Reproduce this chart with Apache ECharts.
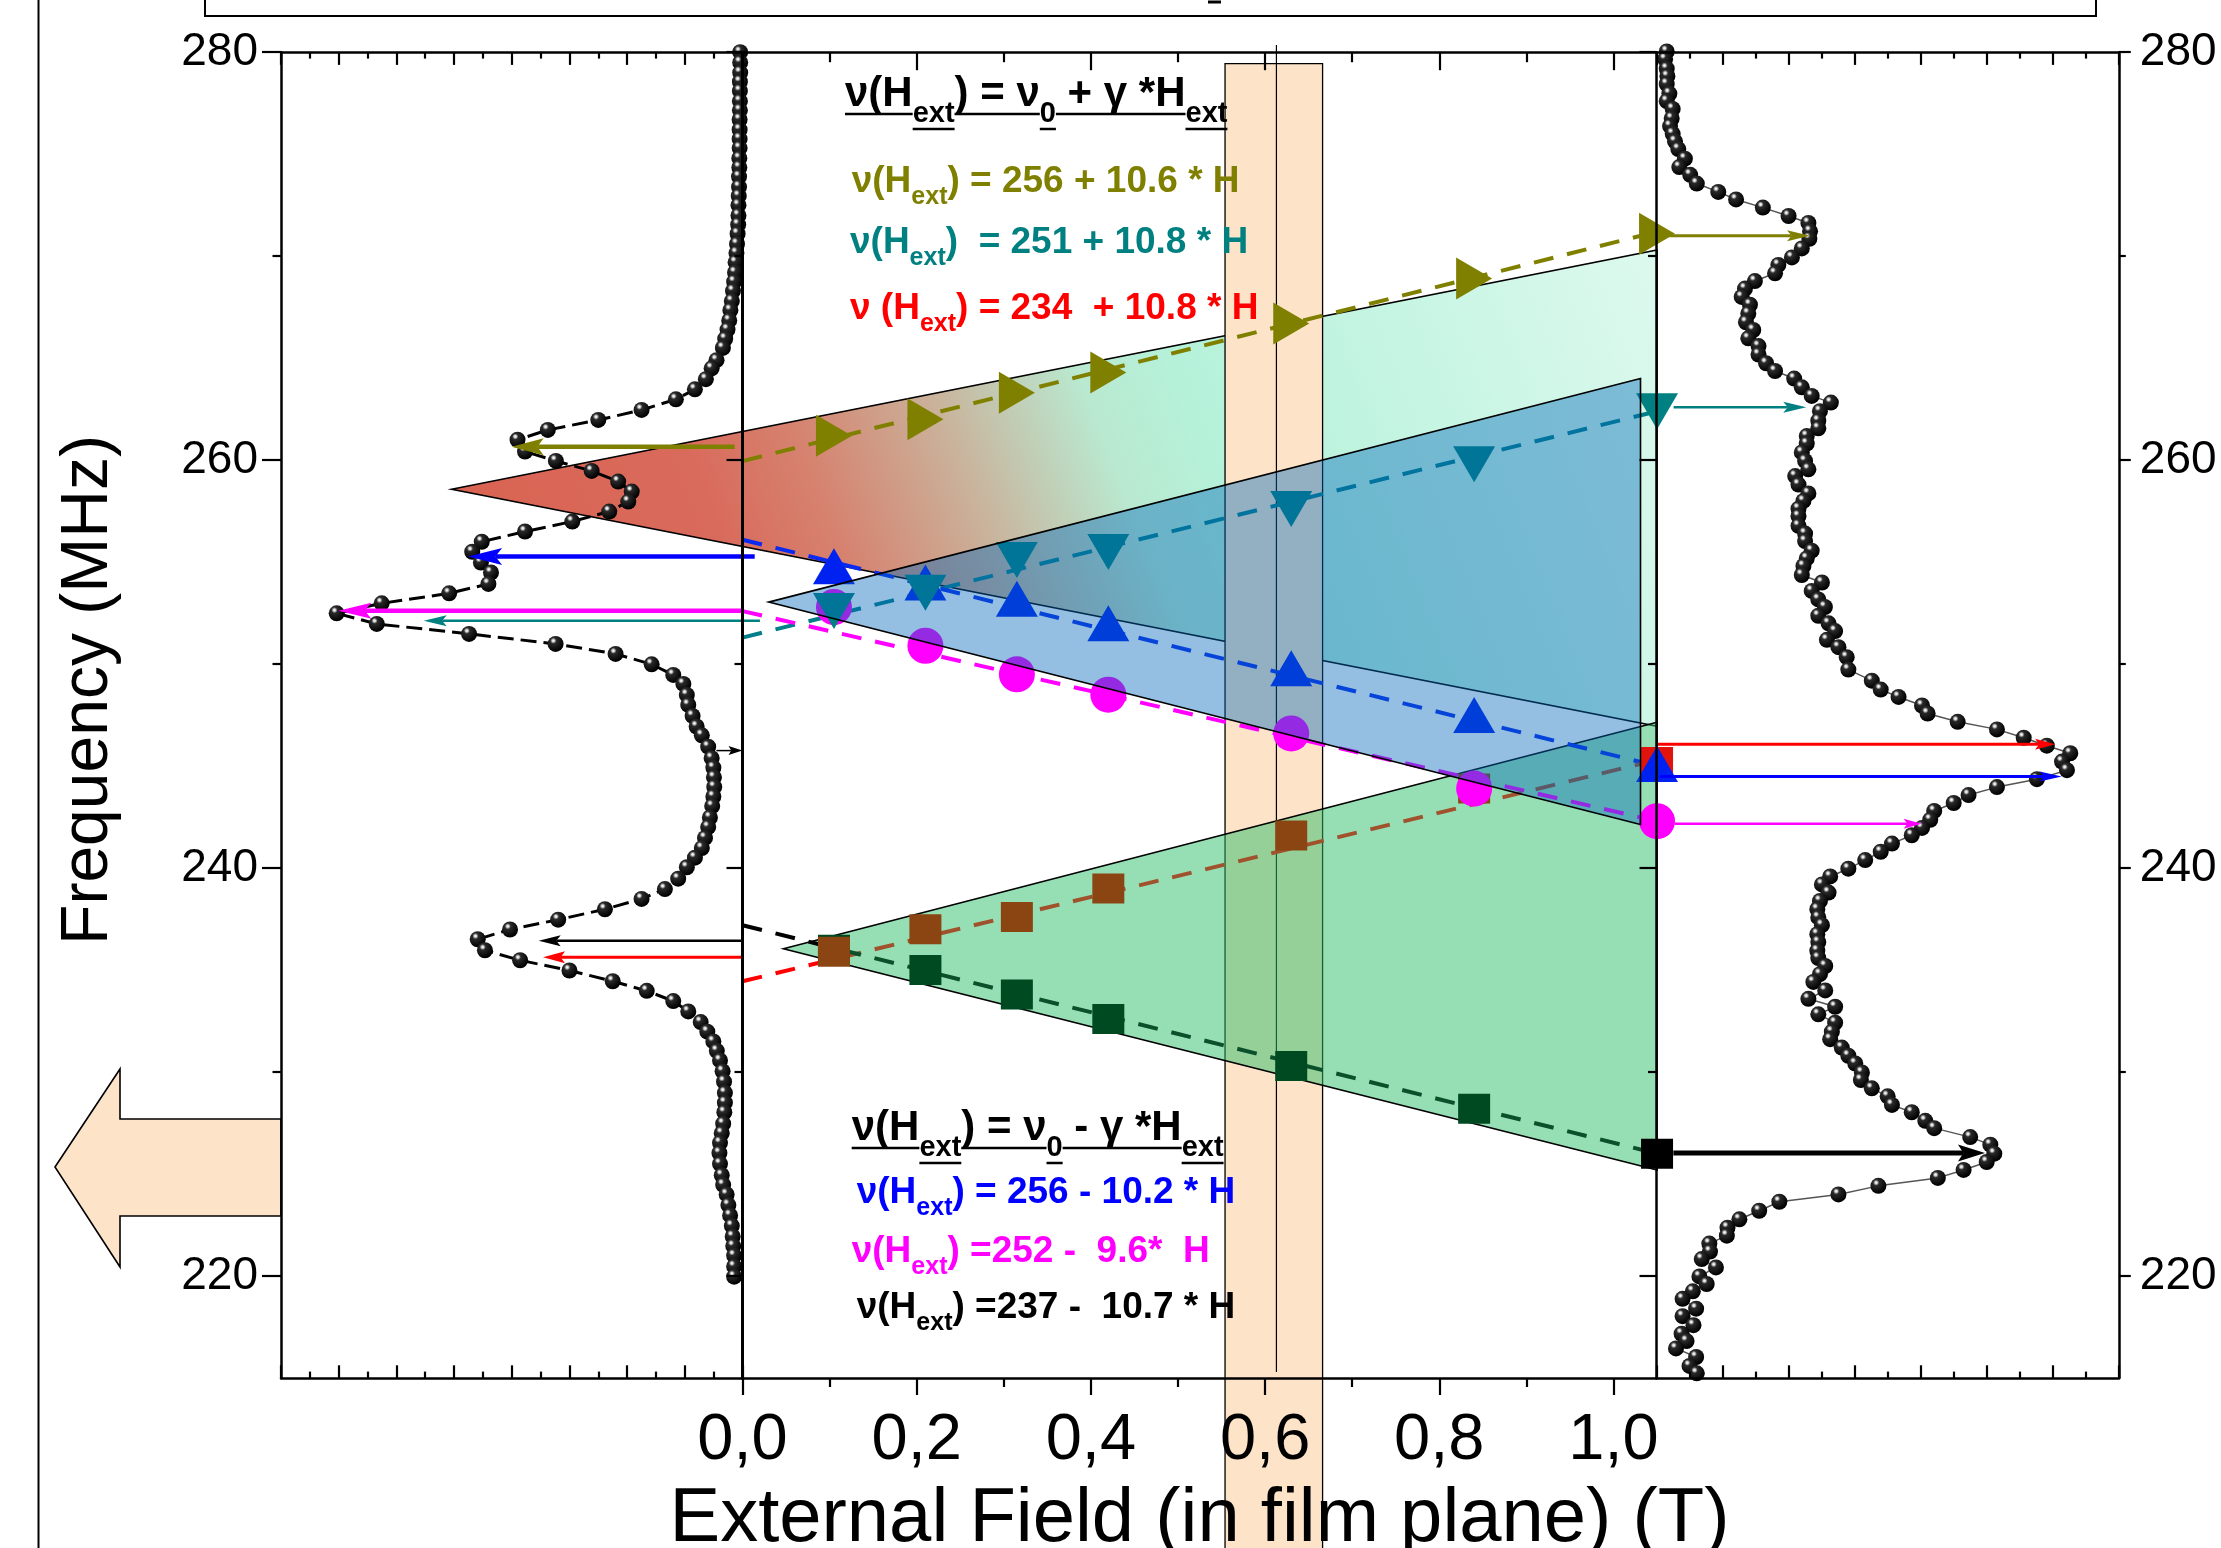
<!DOCTYPE html>
<html>
<head>
<meta charset="utf-8">
<script src="https://cdn.jsdelivr.net/npm/echarts@6.0.0/dist/echarts.min.js"></script>
<style>
html,body{margin:0;padding:0;background:#fff;overflow:hidden}
#chart{width:2221px;height:1548px}
</style>
</head>
<body>
<div id="chart"></div>
<script>
// ================= DATA =================
// applied field (T) of the measured points
const fieldT = [0.105, 0.21, 0.315, 0.42, 0.63, 0.84, 1.05];
// resonance frequencies (MHz)
const oliveFreq   = [261.2, 262.0, 263.3, 264.3, 266.7, 268.9, 271.1];
const tealFreq    = [252.6, 253.5, 255.1, 255.5, 257.6, 259.8, 262.4];
const brownFreq   = [235.9, 237.0, 237.6, 239.0, 241.6, 243.9, 245.2];
const blueFreq    = [254.8, 254.0, 253.2, 252.0, 249.8, 247.5, 245.1];
const magentaFreq = [252.8, 250.9, 249.5, 248.5, 246.6, 243.9, 242.3];
const greenFreq   = [236.0, 235.0, 233.8, 232.6, 230.3, 228.2, 226.0];

// dashed linear fits: value at fitField[0] and fitField[1]
const fitField   = [0, 1.05];
const oliveFit   = [259.95, 271.2];
const tealFit    = [251.3, 262.4];
const brownFit   = [234.45, 245.3];
const blueFit    = [256.1, 245.0];
const magentaFit = [252.6, 242.3];
const greenFit   = [237.2, 226.0];

// shaded wedges (field, frequency) vertices
const wedgeUpper = [[-0.334, 258.57], [1.05, 270.3], [1.05, 246.95]];
const wedgeMiddle = [[0.030, 253.04], [1.031, 264.0], [1.031, 242.14]];
const wedgeLower = [[0.047, 236.04], [1.05, 247.15], [1.05, 225.2]];

// highlighted field band and marker line
const bandField = [0.554, 0.666];
const bandTopFreq = 279.44;
const markLineField = [0.613];
const markLineFreq = [280.35, 215.3];

// arrows: tail field, tip field, frequency
const arrowTail = [-0.009, 0.014, 0.0, 0.020, 0.0, 0.0, -0.030, 1.064, 1.069, 1.0506, 1.0535, 1.0706, 1.0687];
const arrowTip  = [-0.265, -0.315, -0.464, -0.366, -0.234, -0.229, 0.0, 1.2256, 1.2213, 1.507, 1.5146, 1.3538, 1.4265];
const arrowFreq = [260.66, 255.27, 252.61, 252.12, 236.44, 235.63, 245.76, 271.0, 262.59, 246.07, 244.49, 242.17, 226.03];

// left NMR spectrum (frequency MHz, amplitude a.u.)
const leftFreq = [280.0,279.5,279.0,278.55,278.1,277.6,277.15,276.7,276.2,275.75,275.3,274.8,274.35,273.9,273.4,272.95,272.5,272.0,271.55,271.1,270.6,270.15,269.7,269.2,268.75,268.3,267.8,267.35,266.85,266.4,265.95,265.5,264.9,264.5,263.97,263.47,262.98,262.46,261.97,261.48,261.0,260.42,259.96,259.47,258.95,258.46,257.97,257.48,256.99,256.5,256.0,255.51,254.98,254.49,253.93,253.47,252.98,252.49,251.97,251.48,250.99,250.5,249.99,249.47,249.03,248.49,248.0,247.46,246.94,246.51,245.95,245.39,244.92,244.45,243.98,243.51,243.04,242.48,242.01,241.48,240.98,240.51,240.04,239.48,238.97,238.49,237.98,237.47,236.99,236.51,235.97,235.48,234.98,234.45,233.98,233.48,232.97,232.45,231.98,231.5,231.04,230.57,230.04,229.53,228.98,228.5,228.03,227.47,227.0,226.53,226.03,225.5,224.94,224.47,224.0,223.48,222.97,222.46,221.94,221.47,221.0,220.47,219.97];
const leftAmp = [0.08,0.08,0.08,0.09,0.09,0.09,0.09,0.1,0.1,0.1,0.1,0.11,0.11,0.12,0.12,0.13,0.14,0.14,0.15,0.17,0.19,0.21,0.24,0.26,0.29,0.33,0.37,0.42,0.46,0.52,0.6,0.68,0.9,1.07,1.27,1.65,2.31,3.5,5.0,6.75,7.8,7.54,6.47,5.23,4.31,3.84,3.96,4.62,5.9,7.54,9.04,9.37,9.07,8.72,8.81,10.17,12.51,14.07,12.68,9.48,6.48,4.4,3.15,2.4,2.05,1.93,1.88,1.73,1.59,1.41,1.19,1.07,1.01,0.99,0.98,1.01,1.05,1.13,1.19,1.3,1.41,1.65,1.93,2.23,2.69,3.5,4.77,6.39,8.06,9.18,8.93,7.71,6.0,4.5,3.32,2.4,1.88,1.45,1.22,1.01,0.89,0.78,0.69,0.64,0.61,0.61,0.63,0.67,0.72,0.78,0.8,0.78,0.72,0.67,0.55,0.49,0.43,0.37,0.34,0.32,0.29,0.29,0.29];

// right NMR spectrum (frequency MHz, amplitude a.u.)
const rightFreq = [280.04,279.66,279.19,278.82,278.44,277.97,277.6,277.22,276.75,276.38,276.0,275.63,275.25,274.78,274.37,273.99,273.56,273.15,272.78,272.38,271.97,271.63,271.22,270.85,270.38,269.94,269.57,269.16,268.78,268.41,268.0,267.62,267.19,266.76,266.38,265.97,265.59,265.18,264.75,264.37,264.0,263.57,263.15,262.82,262.4,261.93,261.56,261.18,260.81,260.38,259.96,259.55,259.22,258.8,258.37,258.0,257.62,257.25,256.78,256.4,256.03,255.56,255.18,254.81,254.37,254.0,253.59,253.17,252.8,252.37,252.0,251.62,251.19,250.83,250.34,249.73,249.19,248.75,248.39,247.97,247.58,247.17,246.8,246.39,246.0,245.63,245.22,244.8,244.36,243.97,243.58,243.19,242.8,242.37,241.97,241.61,241.2,240.8,240.39,239.97,239.59,239.2,238.8,238.39,237.98,237.58,237.2,236.76,236.37,235.95,235.59,235.2,234.8,234.42,234.0,233.59,233.2,232.83,232.42,231.98,231.61,231.2,230.8,230.42,229.98,229.61,229.2,228.81,228.39,228.03,227.61,227.25,226.81,226.44,226.0,225.59,225.2,224.81,224.42,224.0,223.64,223.2,222.78,222.37,221.98,221.59,221.2,220.83,220.42,219.98,219.61,219.25,218.88,218.4,218.03,217.59,217.17,216.81,216.45,216.03,215.59,215.23];
const rightAmp = [0.31,0.26,0.31,0.33,0.31,0.39,0.31,0.49,0.46,0.41,0.49,0.56,0.66,0.86,0.69,1.02,1.22,1.87,2.41,3.22,4.0,4.6,4.65,4.63,4.4,4.1,3.69,3.59,2.98,2.68,2.58,2.83,2.78,2.71,2.93,2.78,3.09,3.09,3.32,3.59,4.17,4.4,4.7,5.28,4.95,4.9,4.9,4.55,4.55,4.4,4.5,4.6,4.2,4.3,4.6,4.45,4.3,4.3,4.3,4.5,4.5,4.7,4.55,4.45,4.4,5.01,4.7,4.9,5.1,4.9,5.21,5.41,5.16,5.51,5.76,5.81,6.52,6.79,7.33,8.04,8.21,9.12,10.31,11.12,11.82,12.53,12.28,12.43,11.52,10.31,9.45,9.0,8.41,8.29,8.04,7.73,7.13,6.79,6.32,5.81,5.26,5.01,5.21,4.95,4.87,4.9,5.01,4.87,4.9,4.87,4.9,5.11,4.95,4.75,5.11,4.6,5.41,4.9,5.41,5.31,5.26,5.61,5.81,6.02,6.22,6.19,6.52,7.0,7.13,7.73,8.14,8.41,9.5,10.11,10.23,10.0,9.3,8.52,6.72,5.51,3.72,3.11,2.51,2.15,2.13,1.6,1.62,1.37,1.8,1.3,1.52,1.1,0.79,1.2,0.79,1.12,0.76,0.91,0.59,1.2,1.0,1.22];

// axis ticks / labels
const freqMajor = [220, 240, 260, 280];
const freqMinor = [230, 250, 270];
const fieldMajor = [0, 0.2, 0.4, 0.6, 0.8, 1.0];
const fieldMinor = [0.1, 0.3, 0.5, 0.7, 0.9];

// ================= LAYOUT / STYLE =================
const FONT = "'Liberation Sans', Arial, Helvetica, sans-serif";
const W = 2221, H = 1548;
const PLOT_L = 281, PLOT_R = 2118.8, PLOT_T = 52.2, PLOT_B = 1378;
const X0_PX = 742.5, PX_PER_T = 871, XR_PX = 1656.5;
const XMIN = (PLOT_L - X0_PX) / PX_PER_T, XMAX = (PLOT_R - X0_PX) / PX_PER_T, XRIGHT = (XR_PX - X0_PX) / PX_PER_T;
const FMIN = 215, FMAX = 280;
const plotH = PLOT_B - PLOT_T;

const C = {olive:'#808000', teal:'#008080', red:'#FF0000', blue:'#0000FF', magenta:'#FF00FF', brown:'#8B4513', dgreen:'#004A22', black:'#000000'};

const arrowStyle = [
  {c:C.olive, w:4.5, L:32, hw:8.5},
  {c:C.blue, w:4.5, L:34, hw:8.5},
  {c:C.magenta, w:4.5, L:33, hw:8},
  {c:C.teal, w:2.5, L:23, hw:5.5},
  {c:C.black, w:2.5, L:22, hw:5.5},
  {c:C.red, w:3, L:22, hw:6},
  {c:C.black, w:1.5, L:14, hw:4.5},
  {c:C.olive, w:3, L:23, hw:5.5},
  {c:C.teal, w:2.5, L:23, hw:5.5},
  {c:C.red, w:3, L:20, hw:5.5},
  {c:C.blue, w:3, L:22, hw:5},
  {c:C.magenta, w:2.5, L:18, hw:5},
  {c:C.black, w:5, L:27, hw:8.5}
];

const chart = echarts.init(document.getElementById('chart'), null, {renderer:'canvas', width:W, height:H});

const lineBlack = {color:'#000', width:2.5};
const tickStyle = {color:'#000', width:2.2};
function baseAxis(extra) {
  return Object.assign({
    type:'value', z:20, silent:true,
    axisLine:{show:false, onZero:false, lineStyle:lineBlack},
    axisTick:{show:false},
    axisLabel:{show:false},
    splitLine:{show:false},
    minorTick:{show:false},
    minorSplitLine:{show:false}
  }, extra);
}

const grids = [
  {left:PLOT_L, top:PLOT_T, width:PLOT_R-PLOT_L, height:plotH},
  {left:PLOT_L, top:PLOT_T, width:X0_PX-PLOT_L, height:plotH},
  {left:X0_PX, top:PLOT_T, width:XR_PX-X0_PX, height:plotH},
  {left:XR_PX, top:PLOT_T, width:PLOT_R-XR_PX, height:plotH}
].map(g => Object.assign({containLabel:false, outerBoundsMode:'none', show:false}, g));

const labelFmt = v => v.toFixed(1).replace('.', ',');

const xAxes = [
  baseAxis({gridIndex:0, min:XMIN, max:XMAX, show:false}),
  // left spectrum amplitude axis (bottom/top)
  baseAxis({gridIndex:1, position:'bottom', min:0, max:16, interval:2, inverse:true,
    axisLine:{show:true, onZero:false, lineStyle:lineBlack},
    axisTick:{show:true, inside:true, length:12.7, lineStyle:tickStyle},
    minorTick:{show:true, splitNumber:2, length:6.4, lineStyle:tickStyle}}),
  baseAxis({gridIndex:1, position:'top', min:0, max:16, interval:2, inverse:true,
    axisLine:{show:true, onZero:false, lineStyle:lineBlack},
    axisTick:{show:true, inside:true, length:12.7, lineStyle:tickStyle},
    minorTick:{show:true, splitNumber:2, length:6.4, lineStyle:tickStyle}}),
  // field axis
  baseAxis({gridIndex:2, position:'bottom', min:0, max:XRIGHT,
    axisLine:{show:true, onZero:false, lineStyle:lineBlack},
    axisTick:{show:true, inside:false, length:17, lineStyle:tickStyle, customValues:fieldMajor},
    axisLabel:{show:true, customValues:fieldMajor, formatter:labelFmt, fontSize:65, fontFamily:FONT, color:'#000', margin:31}}),
  baseAxis({gridIndex:2, position:'bottom', min:0, max:XRIGHT,
    axisTick:{show:true, inside:false, length:9, lineStyle:tickStyle, customValues:fieldMinor}}),
  baseAxis({gridIndex:2, position:'top', min:0, max:XRIGHT,
    axisLine:{show:true, onZero:false, lineStyle:lineBlack},
    axisTick:{show:true, inside:true, length:18, lineStyle:tickStyle, customValues:fieldMajor}}),
  baseAxis({gridIndex:2, position:'top', min:0, max:XRIGHT,
    axisTick:{show:true, inside:true, length:10, lineStyle:tickStyle, customValues:fieldMinor}}),
  // right spectrum amplitude axis
  baseAxis({gridIndex:3, position:'bottom', min:0, max:14, interval:2,
    axisLine:{show:true, onZero:false, lineStyle:lineBlack},
    axisTick:{show:true, inside:true, length:12.7, lineStyle:tickStyle},
    minorTick:{show:true, splitNumber:2, length:6.4, lineStyle:tickStyle}}),
  baseAxis({gridIndex:3, position:'top', min:0, max:14, interval:2,
    axisLine:{show:true, onZero:false, lineStyle:lineBlack},
    axisTick:{show:true, inside:true, length:12.7, lineStyle:tickStyle},
    minorTick:{show:true, splitNumber:2, length:6.4, lineStyle:tickStyle}})
];

const yLabel = {show:true, customValues:freqMajor, fontSize:46, fontFamily:FONT, color:'#000'};
const yAxes = [
  baseAxis({gridIndex:0, min:FMIN, max:FMAX, show:false}),
  baseAxis({gridIndex:1, position:'left', min:FMIN, max:FMAX,
    axisLine:{show:true, onZero:false, lineStyle:lineBlack},
    axisTick:{show:true, inside:false, length:19, lineStyle:tickStyle, customValues:freqMajor},
    axisLabel:Object.assign({margin:23}, yLabel)}),
  baseAxis({gridIndex:1, position:'left', min:FMIN, max:FMAX,
    axisTick:{show:true, inside:false, length:8.5, lineStyle:tickStyle, customValues:freqMinor}}),
  baseAxis({gridIndex:1, position:'right', min:FMIN, max:FMAX,
    axisLine:{show:true, onZero:false, lineStyle:{color:'#000', width:3}},
    axisTick:{show:true, inside:true, length:16, lineStyle:tickStyle, customValues:freqMajor}}),
  baseAxis({gridIndex:1, position:'right', min:FMIN, max:FMAX,
    axisTick:{show:true, inside:true, length:8, lineStyle:tickStyle, customValues:freqMinor}}),
  baseAxis({gridIndex:2, position:'right', min:FMIN, max:FMAX,
    axisLine:{show:true, onZero:false, lineStyle:lineBlack},
    axisTick:{show:true, inside:true, length:17, lineStyle:tickStyle, customValues:freqMajor}}),
  baseAxis({gridIndex:2, position:'right', min:FMIN, max:FMAX,
    axisTick:{show:true, inside:true, length:8.5, lineStyle:tickStyle, customValues:freqMinor}}),
  baseAxis({gridIndex:3, position:'right', min:FMIN, max:FMAX,
    axisLine:{show:true, onZero:false, lineStyle:lineBlack},
    axisTick:{show:true, inside:false, length:12, lineStyle:tickStyle, customValues:freqMajor},
    axisLabel:Object.assign({margin:21}, yLabel)}),
  baseAxis({gridIndex:3, position:'right', min:FMIN, max:FMAX,
    axisTick:{show:true, inside:false, length:7, lineStyle:tickStyle, customValues:freqMinor}})
];

// ---------- series helpers ----------
function wedge(verts, fill, z) {
  return {
    type:'custom', xAxisIndex:0, yAxisIndex:0, z, silent:true, clip:false,
    data: verts, encode:{x:0, y:1},
    renderItem:(params, api) => {
      if (params.dataIndex !== 0) return null;
      const pts = verts.map(v => api.coord(v));
      return {type:'polygon', shape:{points:pts}, style:{fill, stroke:'#000', lineWidth:1.6}};
    }
  };
}
function fitLine(vals, color, z) {
  return {type:'line', xAxisIndex:0, yAxisIndex:0, z, silent:true, clip:false, symbol:'none',
    data: fitField.map((x, i) => [x, vals[i]]),
    lineStyle:{color, width:4, type:[20, 14]}};
}
function markers(freqs, symbol, size, rotate, color, z, overrides) {
  return {type:'scatter', xAxisIndex:0, yAxisIndex:0, z, silent:true, clip:false,
    symbol, symbolSize:size, symbolRotate:rotate,
    itemStyle:{color, opacity:1, borderWidth:0},
    data: fieldT.map((x, i) => {
      const d = {value:[x, freqs[i]]};
      if (overrides && overrides[i]) d.itemStyle = {color:overrides[i], opacity:1};
      return d;
    })};
}
const ball = new echarts.graphic.RadialGradient(0.36, 0.3, 0.68, [
  {offset:0, color:'#ffffff'}, {offset:0.1, color:'#dcdcdc'}, {offset:0.28, color:'#2a2a2a'}, {offset:1, color:'#000000'}]);

const wedgeUpperFill = new echarts.graphic.LinearGradient(0, 1, 1, 0, [
  {offset:0, color:'#D9604F'}, {offset:0.25, color:'#D96B5C'}, {offset:0.33, color:'#D6826F'},
  {offset:0.43, color:'#CBAE97'}, {offset:0.55, color:'#B9E9D0'}, {offset:0.63, color:'#B5F2DA'}, {offset:1, color:'#DDF9EE'}]);

const series = [
  wedge(wedgeUpper, wedgeUpperFill, 1),
  // highlighted field band
  {type:'custom', xAxisIndex:0, yAxisIndex:0, z:2, silent:true, clip:false,
    data:[[bandField[0], bandField[1], bandTopFreq]], encode:{x:[0,1], y:2},
    renderItem:(params, api) => {
      const p0 = api.coord([api.value(0), api.value(2)]);
      const p1 = api.coord([api.value(1), api.value(2)]);
      return {type:'rect', shape:{x:p0[0], y:p0[1], width:p1[0]-p0[0], height:api.getHeight()-p0[1]+10},
        style:{fill:'#FDE3C8', stroke:'#000', lineWidth:1.3}};
    }},
  {type:'custom', xAxisIndex:0, yAxisIndex:0, z:2, silent:true, clip:false,
    data:[[markLineField[0], markLineFreq[0], markLineFreq[1]]], encode:{x:0, y:[1,2]},
    renderItem:(params, api) => {
      const a = api.coord([api.value(0), api.value(1)]);
      const b = api.coord([api.value(0), api.value(2)]);
      return {type:'line', shape:{x1:a[0], y1:a[1], x2:b[0], y2:b[1]}, style:{stroke:'#000', lineWidth:1.2}};
    }},
  wedge(wedgeLower, 'rgba(45,189,105,0.5)', 3),
  fitLine(oliveFit, C.olive, 4),
  fitLine(tealFit, '#007F8A', 4),
  fitLine(blueFit, '#0A2AF0', 4),
  fitLine(magentaFit, C.magenta, 4),
  Object.assign(fitLine(brownFit, C.brown, 4), {lineStyle:{width:4, type:[20,14],
    color:new echarts.graphic.LinearGradient(0,0,1,0,[{offset:0,color:'#FF0000'},{offset:0.09,color:'#FF0000'},{offset:0.1,color:'#A0522D'},{offset:1,color:'#A0522D'}])}}),
  Object.assign(fitLine(greenFit, C.dgreen, 4), {lineStyle:{width:4, type:[20,14],
    color:new echarts.graphic.LinearGradient(0,0,1,0,[{offset:0,color:'#000'},{offset:0.09,color:'#000'},{offset:0.1,color:'#0B4F2B'},{offset:1,color:'#0B4F2B'}])}}),
  markers(greenFreq, 'rect', [32, 30], 0, C.dgreen, 5, {6:'#000'}),
  markers(brownFreq, 'rect', [32, 30], 0, C.brown, 5, {6:'#E0140C'}),
  markers(magentaFreq, 'circle', 36, 0, C.magenta, 5),
  markers(blueFreq, 'triangle', [42, 36], 0, '#0022F0', 5),
  markers(tealFreq, 'triangle', [42, 36], 180, C.teal, 5),
  markers(oliveFreq, 'triangle', [42, 36], -90, C.olive, 5),
  wedge(wedgeMiddle, 'rgba(0,102,187,0.42)', 6),
  // spectra
  {type:'line', xAxisIndex:1, yAxisIndex:1, z:8, silent:true, clip:false,
    data:leftFreq.map((f, i) => [leftAmp[i], f]),
    symbol:'circle', symbolSize:16, showSymbol:true,
    itemStyle:{color:ball, borderWidth:0},
    lineStyle:{color:'#000', width:3, type:[16, 7]}},
  {type:'line', xAxisIndex:7, yAxisIndex:7, z:8, silent:true, clip:false,
    data:rightFreq.map((f, i) => [rightAmp[i], f]),
    symbol:'circle', symbolSize:16, showSymbol:true,
    itemStyle:{color:ball, borderWidth:0},
    lineStyle:{color:'#555', width:1.5}},
  // arrows
  {type:'custom', xAxisIndex:0, yAxisIndex:0, z:9, silent:true, clip:false,
    data:arrowFreq.map((f, i) => [arrowTail[i], arrowTip[i], f]), encode:{x:[0,1], y:2},
    renderItem:(params, api) => {
      const st = arrowStyle[params.dataIndex];
      const a = api.coord([api.value(0), api.value(2)]);
      const b = api.coord([api.value(1), api.value(2)]);
      const dx = b[0]-a[0], dy = b[1]-a[1];
      const len = Math.hypot(dx, dy) || 1;
      const ux = dx/len, uy = dy/len, nx = -uy, ny = ux;
      const back = [b[0]-ux*st.L, b[1]-uy*st.L];
      const notch = [b[0]-ux*st.L*0.8, b[1]-uy*st.L*0.8];
      return {type:'group', children:[
        {type:'line', shape:{x1:a[0], y1:a[1], x2:notch[0], y2:notch[1]}, style:{stroke:st.c, lineWidth:st.w}},
        {type:'polygon', shape:{points:[b, [back[0]+nx*st.hw, back[1]+ny*st.hw], notch, [back[0]-nx*st.hw, back[1]-ny*st.hw]]}, style:{fill:st.c}}
      ]};
    }}
];

// ---------- equation texts ----------
const mctx = document.createElement('canvas').getContext('2d');
function textW(t, fs) { mctx.font = 'bold ' + fs + 'px ' + FONT; return mctx.measureText(t).width; }
function equation(x, baseline, parts, color, fs, sfs, sdy, underline) {
  const els = [];
  let cx = x;
  parts.forEach(([t, sub]) => {
    const size = sub ? sfs : fs;
    const bl = baseline + (sub ? sdy : 0);
    const w = textW(t, size);
    els.push({type:'text', z:100, silent:true, x:cx, y:bl - 0.3465*size,
      style:{text:t, fill:color, fontSize:size, fontWeight:'bold', fontFamily:FONT, align:'left', verticalAlign:'middle'}});
    if (underline) {
      els.push({type:'line', z:100, silent:true, shape:{x1:cx, y1:bl+5, x2:cx+w, y2:bl+5}, style:{stroke:color, lineWidth:2.5}});
    }
    cx += w;
  });
  return els;
}
const g = [];
// frame decorations
g.push({type:'line', z:0, silent:true, shape:{x1:38.5, y1:0, x2:38.5, y2:H}, style:{stroke:'#000', lineWidth:2}});
g.push({type:'rect', z:0, silent:true, shape:{x:205, y:-10, width:1891, height:26}, style:{fill:'none', stroke:'#000', lineWidth:2}});
g.push({type:'line', z:0, silent:true, shape:{x1:1208, y1:2, x2:1221, y2:2}, style:{stroke:'#000', lineWidth:3}});
g.push({type:'polygon', z:0, silent:true, shape:{points:[[55,1167],[120,1069],[120,1119],[281,1119],[281,1216],[120,1216],[120,1267]]},
  style:{fill:'#FDE3C8', stroke:'#000', lineWidth:1.6}});
// axis titles
g.push({type:'text', z:100, silent:true, x:89, y:690, rotation:Math.PI/2,
  style:{text:'Frequency (MHz)', fill:'#000', fontSize:66, fontFamily:FONT, align:'center', verticalAlign:'middle'}});
g.push({type:'text', z:100, silent:true, x:1199.5, y:1520,
  style:{text:'External Field (in film plane) (T)', fill:'#000', fontSize:76, fontFamily:FONT, align:'center', verticalAlign:'middle'}});
// equations
g.push(...equation(845, 109, [['ν(H',0],['ext',1],[') = ν',0],['0',1],[' + γ *H',0],['ext',1]], '#000', 42, 29, 15, true));
g.push(...equation(851.7, 195, [['ν(H',0],['ext',1],[') = 256 + 10.6 * H',0]], C.olive, 37, 25, 11, false));
g.push(...equation(850, 255.5, [['ν(H',0],['ext',1],[')  = 251 + 10.8 * H',0]], C.teal, 37, 25, 11, false));
g.push(...equation(850, 322, [['ν (H',0],['ext',1],[') = 234  + 10.8 * H',0]], C.red, 37, 25, 11, false));
g.push(...equation(851.7, 1143, [['ν(H',0],['ext',1],[') = ν',0],['0',1],[' - γ *H',0],['ext',1]], '#000', 42, 29, 15, true));
g.push(...equation(856.7, 1206, [['ν(H',0],['ext',1],[') = 256 - 10.2 * H',0]], C.blue, 37, 25, 11, false));
g.push(...equation(851.7, 1265, [['ν(H',0],['ext',1],[') =252 -  9.6*  H',0]], C.magenta, 37, 25, 11, false));
g.push(...equation(856.7, 1321, [['ν(H',0],['ext',1],[') =237 -  10.7 * H',0]], '#000', 37, 25, 11, false));

chart.setOption({
  animation:false,
  backgroundColor:'#fff',
  grid:grids,
  xAxis:xAxes,
  yAxis:yAxes,
  series:series,
  graphic:{elements:g}
});
</script>
</body>
</html>
